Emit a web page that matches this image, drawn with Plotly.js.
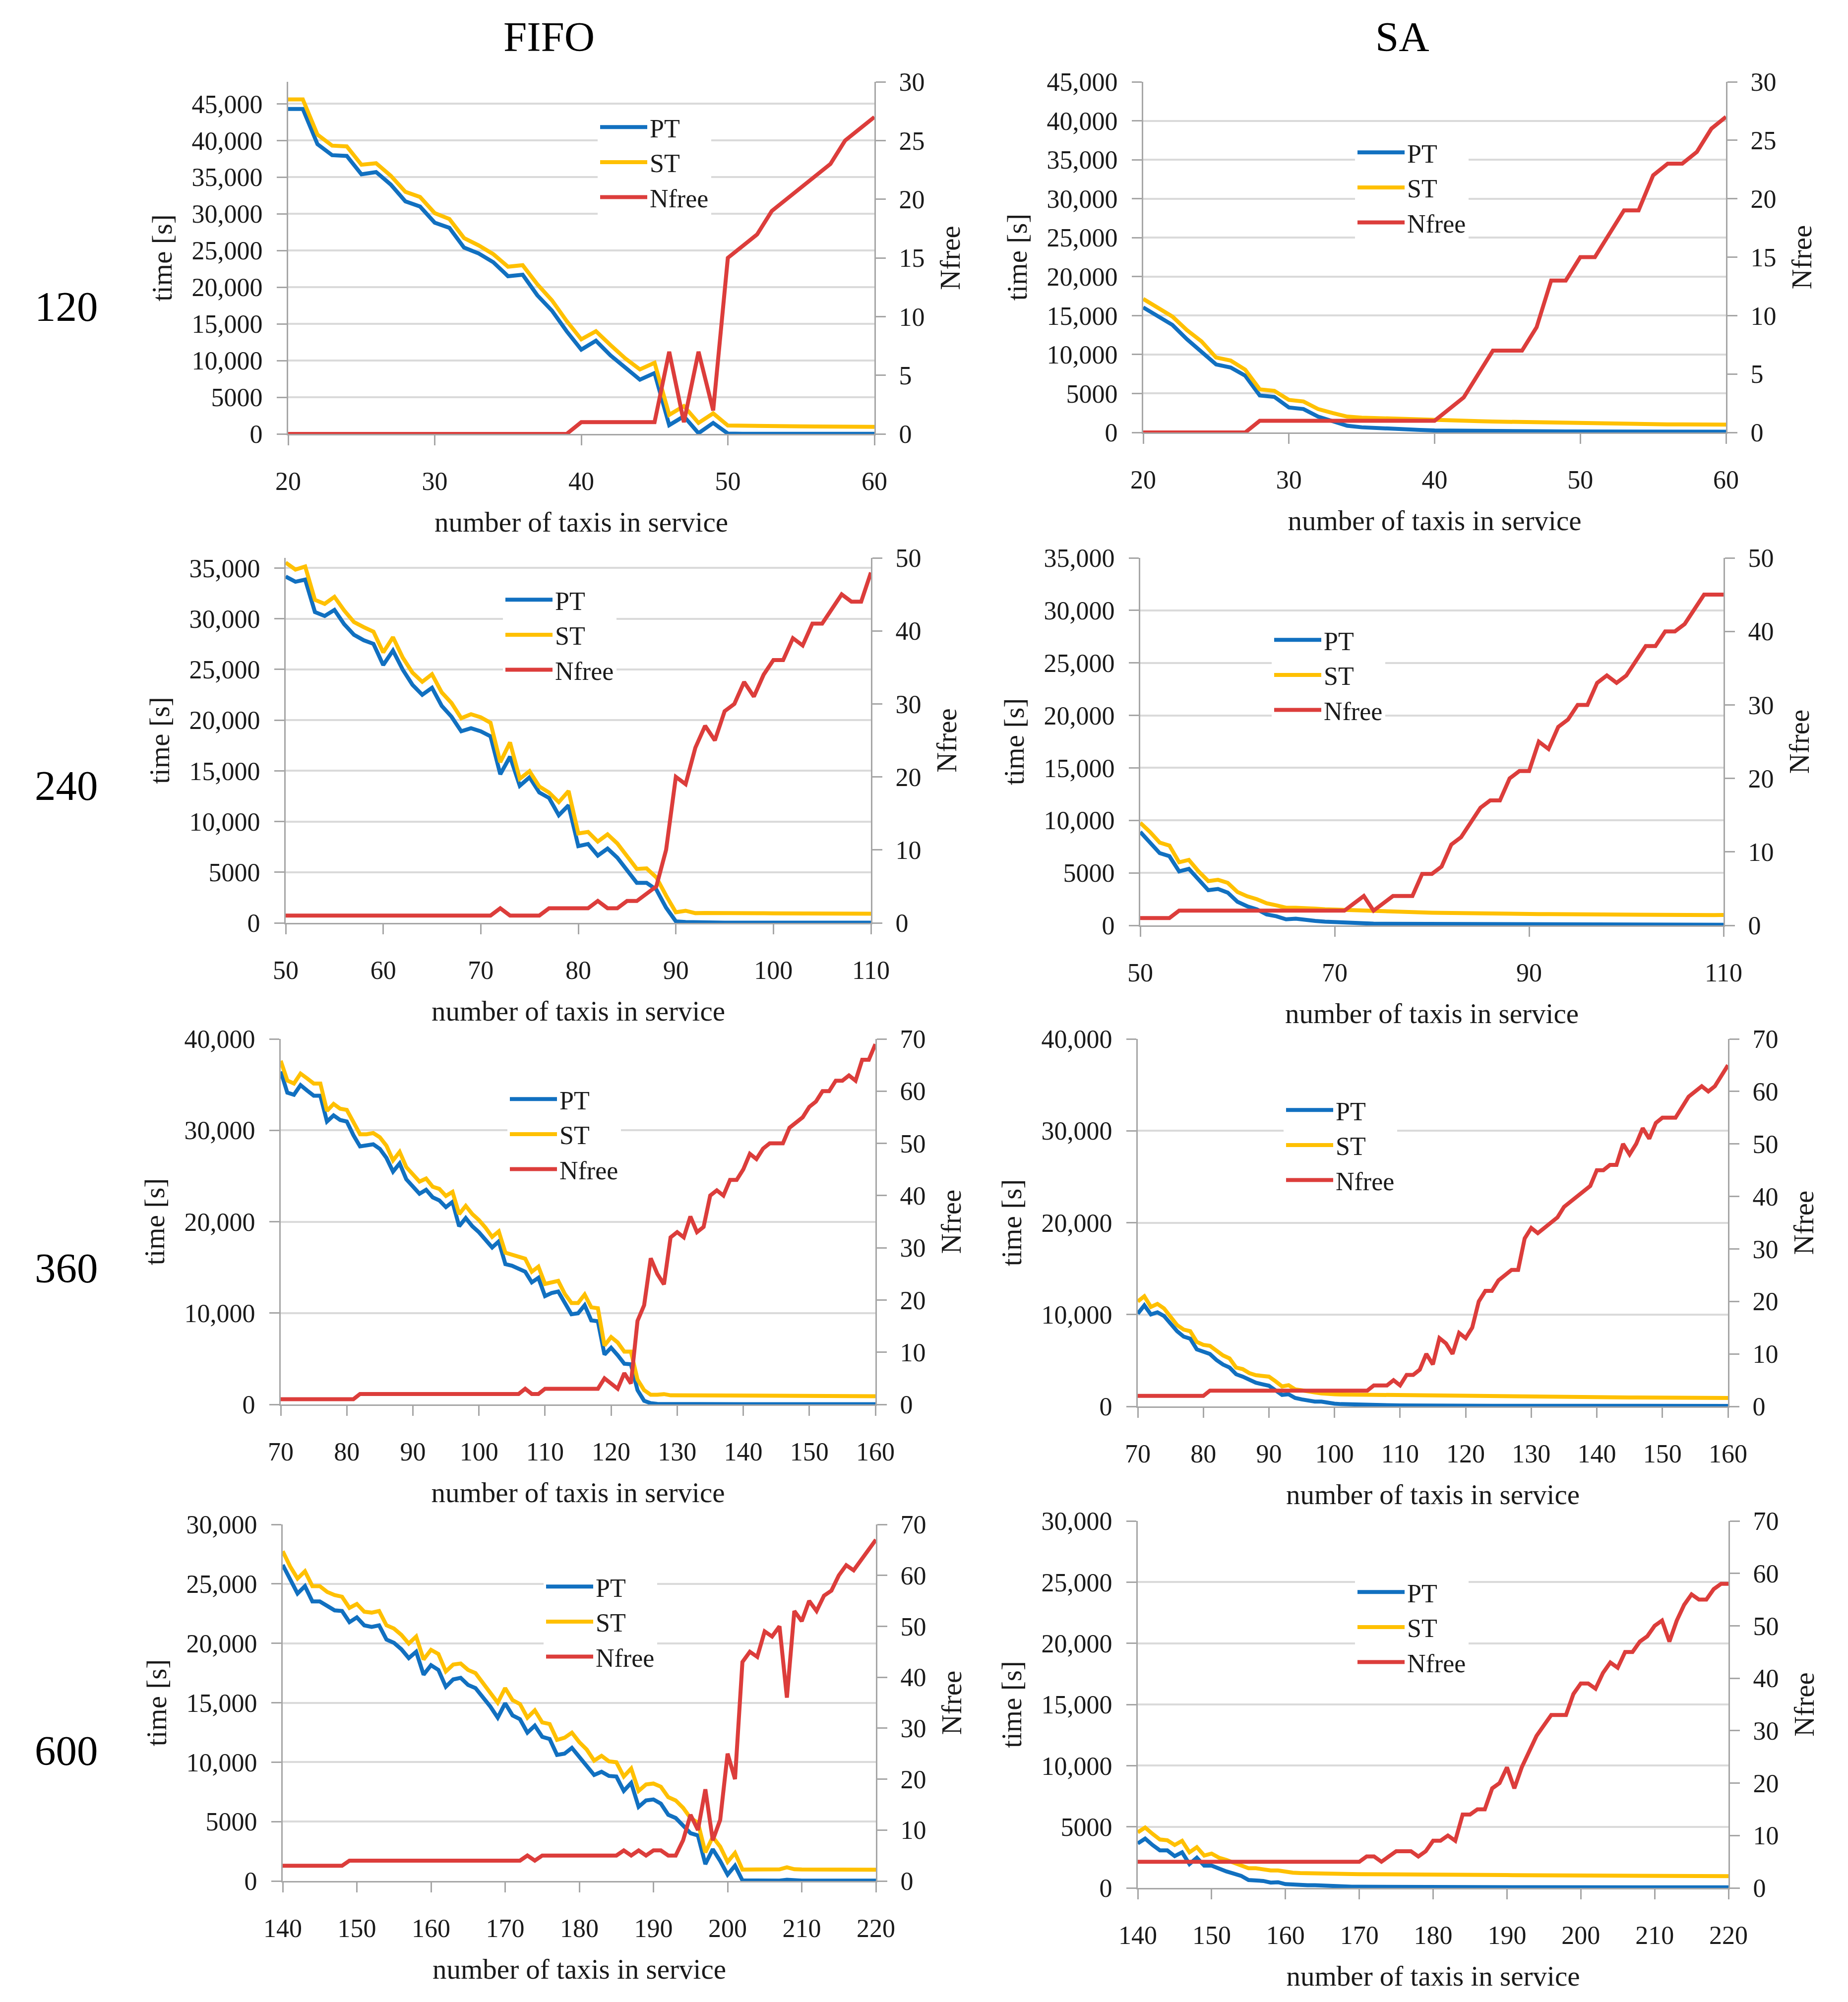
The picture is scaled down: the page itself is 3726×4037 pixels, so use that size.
<!DOCTYPE html>
<html>
<head>
<meta charset="utf-8">
<script src="https://cdn.plot.ly/plotly-3.0.1.min.js"></script>
<style>html,body{margin:0;padding:0;background:#fff;}#chart{width:3726px;height:4037px;}</style>
</head>
<body>
<div id="chart"></div>
<script>
// ---------- helpers ----------
function range(a, b) { const r = []; for (let v = a; v <= b; v++) r.push(v); return r; }
function fmt(v) { return v >= 10000 ? String(v).replace(/\B(?=(\d{3})+(?!\d))/g, ',') : String(v); }

// ---------- DATA ----------
const rowLabels = ['120', '240', '360', '600'];
const colLabels = ['FIFO', 'SA'];
const seriesNames = ['PT', 'ST', 'Nfree'];

// Row 120
const taxis120 = range(20, 60);
const fifo120PT = [44300,44300,39500,38000,37900,35400,35700,34000,31700,31000,28800,28100,25400,24600,23400,21500,21700,18900,16800,14000,11500,12700,10700,9000,7400,8300,1200,2400,100,1500,50,20,20,20,20,20,20,20,20,20,20];
const fifo120ST = [45600,45600,40800,39300,39200,36700,36900,35200,33000,32300,30100,29300,26700,25700,24500,22800,23000,20400,18200,15400,12900,14000,12100,10300,8800,9700,2600,3800,1500,2800,1150,1100,1080,1060,1050,1030,1020,1000,990,980,970];
const fifo120N  = [0,0,0,0,0,0,0,0,0,0,0,0,0,0,0,0,0,0,0,0,1,1,1,1,1,1,7,1,7,2,15,16,17,19,20,21,22,23,25,26,27];
const sa120PT = [16050,14960,13800,11960,10400,8730,8340,7280,4750,4560,3200,3000,2030,1440,860,660,550,480,400,320,260,230,210,190,180,170,160,150,140,130,125,120,115,110,105,100,100,95,95,90,90];
const sa120ST = [17140,16050,14880,13130,11690,9620,9230,8060,5530,5340,4170,3970,3000,2490,2030,1900,1830,1800,1750,1700,1640,1560,1500,1450,1400,1360,1320,1280,1240,1200,1170,1140,1120,1100,1080,1060,1040,1030,1020,1010,1000];
const sa120N  = [0,0,0,0,0,0,0,0,1,1,1,1,1,1,1,1,1,1,1,1,1,2,3,5,7,7,7,9,13,13,15,15,17,19,19,22,23,23,24,26,27];

// Row 240
const taxis240 = range(50, 110);
const fifo240PT = [34160,33650,33860,30660,30270,30870,29460,28420,27880,27520,25430,26860,24980,23480,22500,23190,21400,20340,18900,19200,18900,18400,14660,16400,13520,14360,12860,12320,10620,11600,7570,7780,6640,7330,6430,5230,3950,3950,3290,1500,150,
  80,50,40,30,30,30,30,30,30,30,30,30,30,30,30,30,30,30,30,30];
const fifo240ST = [35540,34850,35150,31860,31470,32160,30810,29670,29170,28720,26680,28180,26170,24680,23780,24530,22730,21690,20190,20580,20280,19740,15850,17800,14210,14960,13460,12860,11910,13010,8820,8970,8020,8730,7840,6580,5320,5380,4490,2690,1050,1200,960,
  980,990,980,970,960,950,950,940,940,930,930,920,920,910,910,900,900,900];
const fifo240N  = [1,1,1,1,1,1,1,1,1,1,1,1,1,1,1,1,1,1,1,1,1,1,2,1,1,1,1,2,2,2,2,2,
  3,2,2,3,3,4,5,10,20,19,24,27,25,29,30,33,31,34,36,36,39,38,41,41,43,45,44,44,48];
const sa240PT = [8900,7890,6880,6590,5140,5380,4340,3350,3470,3120,2250,1820,1530,1040,870,580,640,580,430,350,300,250,220,180,
  160,150,150,140,140,130,130,120,120,110,110,100,100,100,90,90,90,90,80,80,80,80,80,70,70,70,70,70,70,60,60,60,60,60,60,60,60];
const sa240ST = [9770,8900,7890,7600,6010,6240,5140,4220,4340,4050,3180,2770,2490,2110,1910,1680,1680,1680,1590,1530,1500,1450,1390,1330,1330,1270,
  1260,1250,1240,1230,1210,1190,1170,1160,1150,1140,1130,1120,1110,1100,1090,1080,1070,1060,1050,1040,1030,1020,1010,1000,1000,990,990,980,980,980,970,970,970,980,990];
const sa240N  = [1,1,1,1,2,2,2,2,2,2,2,2,2,2,2,2,2,2,2,2,2,2,
  3,4,2,3,4,4,4,7,7,8,11,12,14,16,17,17,20,21,21,25,24,27,28,30,30,33,34,33,34,36,38,38,40,40,41,43,45,45,45];

// Row 360
const taxis360 = range(70, 160);
const fifo360PT = [36440,34120,33890,34950,34350,33790,33790,30960,31630,31130,30960,29470,28240,28310,28470,27970,26980,25480,26380,24650,23820,23060,23490,22660,22330,21590,22160,19500,20400,19500,18840,18010,17180,17840,15350,15180,14850,14520,13360,13850,11860,12190,12360,11030,9870,9970,10860,9200,9100,5450,6210,5380,4450,4390,1560,400,130,
  50,40,30,30,30,30,30,30,30,30,30,30,30,30,30,30,30,30,30,30,30,30,30,30,30,30,30,30,30,30,30,30,30,30];
const fifo360ST = [37610,35450,35120,36210,35680,35120,35120,32130,32890,32360,32230,30800,29570,29570,29700,29240,28310,26710,27640,25980,25250,24390,24720,23820,23590,22820,23260,20830,21730,20830,20170,19340,18340,18940,16610,16410,16180,15950,14520,15080,13190,13360,13520,12090,11100,11100,12030,10630,10530,6450,7370,6780,5780,5780,2720,1560,1060,1060,1130,1000,
  1000,990,990,980,980,970,970,960,960,960,950,950,950,940,940,940,930,930,930,920,920,920,910,910,910,900,900,900,900,900,900];
const fifo360N  = [1,1,1,1,1,1,1,1,1,1,1,1,2,2,2,2,2,2,2,2,2,2,2,2,2,2,2,2,2,2,2,2,2,2,2,2,2,
  3,2,2,3,3,3,3,3,3,3,3,3,
  5,4,3,6,4,16,19,28,25,23,32,33,32,36,33,34,40,41,40,43,43,45,48,47,49,50,50,50,53,54,55,57,58,60,60,62,62,63,62,66,66,69];
const sa360PT = [10100,11000,10010,10240,9840,9020,8190,7600,7370,6210,5940,5710,5050,4560,4230,3500,3240,2910,2580,2410,2250,1750,1250,1320,920,760,590,530,530,400,300,
  250,220,200,180,160,150,140,130,120,110,100,100,95,90,90,85,80,80,75,75,70,70,70,70,70,70,70,70,70,70,65,65,65,65,65,65,65,65,65,65,60,60,60,60,60,60,60,60,60,60,55,55,55,55,55,55,55,55,55,55];
const sa360ST = [11430,11990,10830,11160,10670,9680,8850,8360,8190,7030,6700,6600,6040,5550,5220,4230,4060,3630,3400,3300,3240,2740,2180,2310,1850,1750,1590,1520,1420,1320,1320,
  1300,1290,1280,1270,1260,1250,1240,1230,1220,1210,1200,1190,1180,1170,1160,1150,1140,1130,1120,1110,1100,1090,1080,1070,1060,1050,1040,1030,1020,1010,1000,1000,1000,1000,1000,1000,1000,1000,1000,1000,990,990,980,980,970,970,960,960,950,950,950,940,940,940,930,930,930,920,920,920];
const sa360N  = [2,2,2,2,2,2,2,2,2,2,2,3,3,3,3,3,3,3,3,3,3,3,3,3,3,3,3,3,3,3,3,3,3,3,3,3,
  4,4,4,5,4,6,6,7,10,8,13,12,10,14,13,15,20,22,22,24,25,26,26,32,34,33,34,35,36,38,39,40,41,42,45,45,46,46,50,48,50,53,51,54,55,55,55,57,59,60,61,60,61,63,65];

// Row 600
const taxis600 = range(140, 220);
const fifo600PT = [26600,25400,24190,24810,23520,23520,23120,22770,22720,21780,22180,21510,21380,21510,20310,20040,19500,18750,19290,17360,18160,17760,16340,16960,17090,16500,16230,15430,14680,13740,14950,13930,13610,12480,13070,12130,11950,10610,10710,11200,10450,9720,8920,9190,8840,8790,7580,8250,6240,6780,6860,6510,5570,5300,4710,4020,3830,1420,2680,1690,540,1290,50,
  30,30,30,30,30,100,30,30,30,30,30,30,30,30,30,30,30,30];
const fifo600ST = [27750,26470,25450,26060,24810,24810,24320,24060,23920,22980,23310,22660,22580,22720,21510,21240,20710,19980,20570,18640,19450,19100,17630,18210,18300,17760,17490,16690,15880,15000,16230,15220,14890,13740,14360,13340,13210,11870,12050,12480,11680,11060,10130,10530,10070,9990,8790,9460,7580,8120,8200,7930,7050,6780,6160,5300,4900,2410,3700,2890,1610,2360,960,
  980,980,970,970,980,1150,990,970,960,960,960,950,950,950,950,950,950,950];
const fifo600N  = [3,3,3,3,3,3,3,3,3,4,4,4,4,4,4,4,4,4,4,4,4,4,4,4,4,4,4,4,4,4,4,4,4,5,4,5,5,5,5,5,5,5,5,5,5,5,
  6,5,6,5,6,6,5,5,8,13,10,18,8,12,25,20,43,45,44,49,48,50,36,53,51,55,53,56,57,60,62,61,63,65,67];
const sa600PT = [3640,4030,3510,3070,3070,2600,2910,1950,2470,1820,1820,1560,1350,1170,990,650,650,570,440,470,310,260,230,220,220,180,150,120,
  110,100,100,95,90,90,85,80,80,75,75,70,70,70,70,70,65,65,65,65,65,60,60,60,60,60,60,60,55,55,55,55,55,55,55,50,50,50,50,50,50,50,50,50,50,50,50,50,50,50,50,50,50];
const sa600ST = [4550,4940,4420,3960,3900,3510,3850,2910,3330,2650,2810,2470,2290,2080,1870,1610,1610,1510,1430,1430,1300,1250,1220,1220,1220,1170,
  1160,1150,1140,1140,1130,1130,1120,1120,1110,1110,1100,1100,1100,1100,1100,1090,1090,1080,1080,1070,1070,1060,1060,1050,1050,1040,1040,1030,1030,1020,1020,1010,1010,1000,1000,1000,990,990,990,980,980,980,970,970,970,970,960,960,960,960,960,960,960,960,960];
const sa600N  = [5,5,5,5,5,5,5,5,5,5,5,5,5,5,5,5,5,5,5,5,5,5,5,5,5,5,5,5,5,5,5,
  6,6,5,6,7,7,7,6,7,9,9,10,9,14,14,15,15,19,20,23,19,23,26,29,31,33,33,33,37,39,39,38,41,43,42,45,45,47,48,50,51,47,51,54,56,55,55,57,58,58];

// Tick values
const timeTicks120 = [0,5000,10000,15000,20000,25000,30000,35000,40000,45000];
const timeTicks240 = [0,5000,10000,15000,20000,25000,30000,35000];
const timeTicks360 = [0,10000,20000,30000,40000];
const timeTicks600 = [0,5000,10000,15000,20000,25000,30000];
const nfreeTicks120 = [0,5,10,15,20,25,30];
const nfreeTicks240 = [0,10,20,30,40,50];
const nfreeTicks360 = [0,10,20,30,40,50,60,70];
const nfreeTicks600 = [0,10,20,30,40,50,60,70];
const xTicks120 = [20,30,40,50,60];
const xTicksFifo240 = [50,60,70,80,90,100,110];
const xTicksSa240 = [50,70,90,110];
const xTicks360 = [70,80,90,100,110,120,130,140,150,160];
const xTicks600 = [140,150,160,170,180,190,200,210,220];

// ---------- PANEL SPEC (layout only) ----------
const W = 3726, H = 4037;
const panels = [
  {x: taxis120, pt: fifo120PT, st: fifo120ST, nf: fifo120N, xr:[20,60],  xt:xTicks120,     yr:[0,48000], yt:timeTicks120, nr:[0,30], nt:nfreeTicks120, px:{l:581,r:1763,t:165,b:875},  lg:[1210,254]},
  {x: taxis120, pt: sa120PT,   st: sa120ST,   nf: sa120N,   xr:[20,60],  xt:xTicks120,     yr:[0,45000], yt:timeTicks120, nr:[0,30], nt:nfreeTicks120, px:{l:2305,r:3480,t:165,b:872}, lg:[2737,305]},
  {x: taxis240, pt: fifo240PT, st: fifo240ST, nf: fifo240N, xr:[50,110], xt:xTicksFifo240, yr:[0,36000], yt:timeTicks240, nr:[0,50], nt:nfreeTicks240, px:{l:576,r:1756,t:1125,b:1861}, lg:[1019,1207]},
  {x: taxis240, pt: sa240PT,   st: sa240ST,   nf: sa240N,   xr:[50,110], xt:xTicksSa240,   yr:[0,35000], yt:timeTicks240, nr:[0,50], nt:nfreeTicks240, px:{l:2299,r:3475,t:1125,b:1866},lg:[2569,1288]},
  {x: taxis360, pt: fifo360PT, st: fifo360ST, nf: fifo360N, xr:[70,160], xt:xTicks360,     yr:[0,40000], yt:timeTicks360, nr:[0,70], nt:nfreeTicks360, px:{l:566,r:1765,t:2095,b:2832}, lg:[1028,2214]},
  {x: taxis360, pt: sa360PT,   st: sa360ST,   nf: sa360N,   xr:[70,160], xt:xTicks360,     yr:[0,40000], yt:timeTicks360, nr:[0,70], nt:nfreeTicks360, px:{l:2294,r:3484,t:2095,b:2836},lg:[2593,2236]},
  {x: taxis600, pt: fifo600PT, st: fifo600ST, nf: fifo600N, xr:[140,220],xt:xTicks600,     yr:[0,30000], yt:timeTicks600, nr:[0,70], nt:nfreeTicks600, px:{l:570,r:1766,t:3074,b:3793}, lg:[1101,3197]},
  {x: taxis600, pt: sa600PT,   st: sa600ST,   nf: sa600N,   xr:[140,220],xt:xTicks600,     yr:[0,30000], yt:timeTicks600, nr:[0,70], nt:nfreeTicks600, px:{l:2294,r:3485,t:3067,b:3807},lg:[2737,3208]}
];

const FONT = 'Liberation Serif, Times New Roman, serif';
const TXT = '#1a1a1a';
const AXC = '#a6a6a6';
const colors = ['#1170c0', '#ffc000', '#dc3d3b'];

const data = [];
const layout = {
  width: W, height: H,
  margin: {l: 0, r: 0, t: 0, b: 0},
  paper_bgcolor: '#ffffff', plot_bgcolor: 'rgba(0,0,0,0)',
  font: {family: FONT, color: TXT, size: 52},
  showlegend: true,
  annotations: []
};

panels.forEach((p, i) => {
  const n = i + 1;
  const xa = 'x' + (n === 1 ? '' : n);
  const yl = 'y' + (2 * n - 1 === 1 ? '' : (2 * n - 1));
  const yr = 'y' + (2 * n);
  const lgKey = 'legend' + (n === 1 ? '' : n);
  const xd = [p.px.l / W, p.px.r / W];
  const yd = [1 - p.px.b / H, 1 - p.px.t / H];

  const tickfont = {family: FONT, size: 52, color: TXT};
  const titlefont = {family: FONT, size: 57, color: TXT};

  layout['xaxis' + (n === 1 ? '' : n)] = {
    domain: xd, anchor: yl, range: p.xr, tickvals: p.xt, ticktext: p.xt.map(String),
    showline: true, linecolor: AXC, linewidth: 3, ticks: 'outside', ticklen: 20, tickwidth: 3, tickcolor: AXC,
    showgrid: false, zeroline: false, tickfont: tickfont, ticklabelstandoff: 28, automargin: false,
    title: {text: 'number of taxis in service', font: titlefont, standoff: 34}
  };
  layout['yaxis' + (2 * n - 1 === 1 ? '' : (2 * n - 1))] = {
    domain: yd, anchor: xa, range: p.yr, tickvals: p.yt, ticktext: p.yt.map(fmt),
    showline: true, linecolor: AXC, linewidth: 3, ticks: 'outside', ticklen: 20, tickwidth: 3, tickcolor: AXC,
    showgrid: true, gridcolor: '#dadada', gridwidth: 4, zeroline: false, tickfont: tickfont, ticklabelstandoff: 18, automargin: false,
    title: {text: 'time [s]', font: titlefont, standoff: 22}
  };
  layout['yaxis' + (2 * n)] = {
    domain: yd, anchor: xa, overlaying: yl, side: 'right', range: p.nr, tickvals: p.nt, ticktext: p.nt.map(String),
    showline: true, linecolor: AXC, linewidth: 3, ticks: 'outside', ticklen: 20, tickwidth: 3, tickcolor: AXC,
    showgrid: false, zeroline: false, tickfont: tickfont, ticklabelstandoff: 16, automargin: false,
    title: {text: 'Nfree', font: titlefont, standoff: 32}
  };

  layout[lgKey] = {
    x: (p.lg[0] - 5) / W, y: 1 - (p.lg[1] - 38) / H, xanchor: 'left', yanchor: 'top',
    xref: 'paper', yref: 'paper',
    bgcolor: '#ffffff', borderwidth: 0,
    font: {family: FONT, size: 52, color: TXT}, itemwidth: 95, tracegroupgap: 0
  };

  const line = c => ({color: c, width: 8, shape: 'linear'});
  data.push({type: 'scatter', mode: 'lines', name: seriesNames[0], x: p.x, y: p.pt, xaxis: xa, yaxis: yl, line: line(colors[0]), legend: lgKey});
  data.push({type: 'scatter', mode: 'lines', name: seriesNames[1], x: p.x, y: p.st, xaxis: xa, yaxis: yl, line: line(colors[1]), legend: lgKey});
  data.push({type: 'scatter', mode: 'lines', name: seriesNames[2], x: p.x, y: p.nf, xaxis: xa, yaxis: yr, line: line(colors[2]), legend: lgKey});
});

// Column titles and row labels
const colCenters = [1107, 2827];
colLabels.forEach((t, j) => layout.annotations.push({
  text: t, xref: 'paper', yref: 'paper', x: colCenters[j] / W, y: 1 - 74 / H,
  xanchor: 'center', yanchor: 'middle', showarrow: false, font: {family: FONT, size: 85, color: '#000'}
}));
const rowCenters = [618, 1584, 2557, 3530];
rowLabels.forEach((t, k) => layout.annotations.push({
  text: t, xref: 'paper', yref: 'paper', x: 134 / W, y: 1 - rowCenters[k] / H,
  xanchor: 'center', yanchor: 'middle', showarrow: false, font: {family: FONT, size: 85, color: '#000'}
}));

Plotly.newPlot('chart', data, layout, {staticPlot: true, displayModeBar: false});
</script>
</body>
</html>
